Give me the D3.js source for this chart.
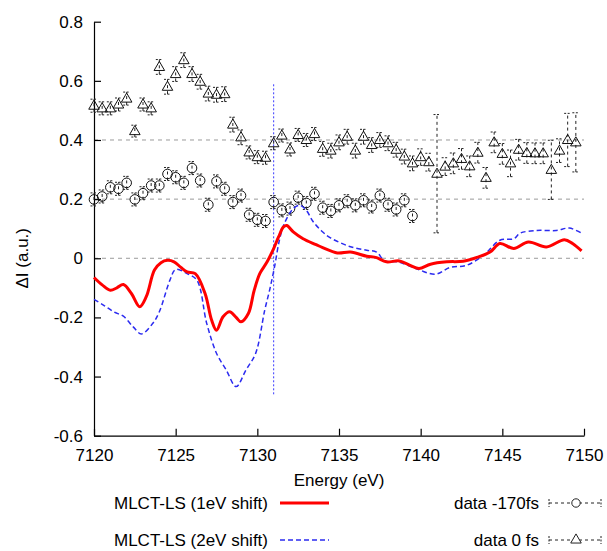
<!DOCTYPE html>
<html>
<head>
<meta charset="utf-8">
<script src="https://cdn.jsdelivr.net/npm/d3@7"></script>
<style>
  body { margin: 0; background: #fff; }
  svg text { font-family: "Liberation Sans", Arial, sans-serif; font-size: 17px; fill: #000; }
</style>
</head>
<body>
<div id="chart"></div>
<script>
// energy grid of the measured points (eV)
const energy = [7120,7120.5,7121,7121.5,7122,7122.5,7123,7123.5,7124,7124.5,
  7125,7125.5,7126,7126.5,7127,7127.5,7128,7128.5,7129,7129.5,
  7130,7130.5,7131,7131.5,7132,7132.5,7133,7133.5,7134,7134.5,
  7135,7135.5,7136,7136.5,7137,7137.5,7138,7138.5,7139,7139.5,
  7140,7140.5,7141,7141.5,7142,7142.5,7143,7143.5,7144,7144.5,
  7145,7145.5,7146,7146.5,7147,7147.5,7148,7148.5,7149,7149.5];

// data 0 fs (triangles)
const data0fs = [0.516,0.507,0.507,0.52,0.54,0.43,0.52,0.507,0.647,0.58,
  0.623,0.67,0.623,0.597,0.557,0.553,0.555,0.452,0.409,0.358,
  0.342,0.34,0.389,0.415,0.368,0.417,0.40,0.42,0.37,0.364,
  0.392,0.411,0.364,0.411,0.383,0.40,0.389,0.367,0.344,0.321,
  0.342,0.325,0.286,0.31,0.321,0.336,0.311,0.357,0.272,0.392,
  0.353,0.321,0.367,0.356,0.355,0.355,0.299,0.364,0.40,0.392];
const err0fs = [0.022,0.022,0.022,0.022,0.022,0.02,0.022,0.022,0.025,0.025,
  0.025,0.025,0.025,0.025,0.025,0.025,0.025,0.025,0.025,0.022,
  0.022,0.022,0.022,0.022,0.022,0.022,0.022,0.022,0.025,0.025,
  0.025,0.025,0.025,0.025,0.025,0.025,0.025,0.025,0.025,0.025,
  0.028,0.03,0.2,0.03,0.035,0.035,0.035,0.035,0.035,0.035,
  0.035,0.045,0.035,0.035,0.035,0.035,0.1,0.04,0.09,0.1];

// data -170fs (circles), first 40 energies
const dataM170 = [0.199,0.209,0.24,0.235,0.255,0.199,0.22,0.246,0.246,0.285,
  0.274,0.255,0.305,0.263,0.181,0.26,0.235,0.19,0.212,0.147,
  0.13,0.126,0.19,0.162,0.168,0.205,0.187,0.218,0.171,0.16,
  0.179,0.193,0.179,0.196,0.175,0.212,0.181,0.165,0.196,0.143];
const errM170 = [0.022,0.022,0.022,0.022,0.022,0.022,0.022,0.022,0.022,0.022,
  0.022,0.022,0.022,0.022,0.022,0.022,0.022,0.022,0.022,0.022,
  0.022,0.022,0.022,0.022,0.022,0.022,0.022,0.022,0.022,0.022,
  0.022,0.022,0.022,0.022,0.022,0.022,0.022,0.022,0.022,0.022];

// MLCT-LS (1eV shift)
const redE = [7120,7120.5,7121,7121.4,7121.8,7122.3,7122.8,7123.2,7123.7,7124.1,
  7124.5,7124.9,7125.3,7125.7,7126.2,7126.8,7127.2,7127.5,7127.9,7128.3,
  7128.7,7129.0,7129.45,7129.8,7130.15,7130.6,7131.0,7131.3,7131.6,7131.8,
  7132.2,7132.8,7133.6,7134.0,7134.9,7135.7,7136.7,7137.3,7137.9,7138.7,
  7139.35,7139.9,7140.6,7141.6,7142.6,7143.4,7144.25,7144.85,7145.7,7146.6,
  7147.7,7148.8,7149.3,7149.85];
const redV = [-0.065,-0.09,-0.108,-0.1,-0.089,-0.12,-0.164,-0.13,-0.04,-0.015,
  -0.007,-0.012,-0.03,-0.046,-0.052,-0.119,-0.209,-0.243,-0.198,-0.181,
  -0.2,-0.215,-0.187,-0.11,-0.052,-0.012,0.033,0.072,0.106,0.111,
  0.089,0.066,0.046,0.036,0.018,0.021,0.007,0.002,-0.012,-0.009,
  -0.024,-0.035,-0.02,-0.012,-0.01,0.002,0.021,0.05,0.033,0.055,
  0.038,0.063,0.05,0.025];

// MLCT-LS (2eV shift)
const blueE = [7120,7120.6,7121.2,7121.8,7122.4,7122.9,7123.6,7124.0,7124.65,7125.0,
  7125.7,7126.3,7126.9,7127.5,7128.1,7128.7,7129.3,7129.9,7130.45,7130.75,
  7131.05,7131.35,7131.65,7132.2,7132.6,7133.0,7133.4,7133.9,7134.45,7135.65,
  7136.7,7137.3,7137.8,7138.6,7139.35,7139.95,7140.9,7141.8,7142.8,7143.85,
  7144.85,7145.7,7146.1,7147.1,7148.3,7149.1,7149.85];
const blueV = [-0.139,-0.159,-0.181,-0.196,-0.232,-0.256,-0.22,-0.181,-0.074,-0.038,
  -0.052,-0.074,-0.22,-0.321,-0.378,-0.434,-0.378,-0.321,-0.176,-0.108,
  -0.03,0.061,0.117,0.168,0.179,0.162,0.125,0.094,0.07,0.04,
  0.027,0.021,-0.009,-0.012,-0.027,-0.04,-0.054,-0.031,-0.024,0.01,
  0.061,0.066,0.085,0.094,0.094,0.102,0.085];

const yTicks = [-0.6,-0.4,-0.2,0,0.2,0.4,0.6,0.8];
const xTicks = [7120,7125,7130,7135,7140,7145,7150];
const gridLevels = [0, 0.2, 0.4];
const marker = { energy: 7131, from: -0.46, to: 0.59 };

const width = 607;
const height = 551;
const margin = { top: 22, right: 23, bottom: 116, left: 94 };

const svg = d3.select('#chart').append('svg')
    .attr('width', width)
    .attr('height', height);

const xScale = d3.scaleLinear().domain([7120, 7150]).range([margin.left, width - margin.right]);
const yScale = d3.scaleLinear().domain([-0.6, 0.8]).range([height - margin.bottom + 0.7, margin.top - 0.3]);

// dashed grid lines
svg.append('g').selectAll('line')
    .data(gridLevels)
    .join('line')
    .attr('x1', xScale(7120)).attr('x2', xScale(7150))
    .attr('y1', (d) => yScale(d)).attr('y2', (d) => yScale(d))
    .attr('stroke', '#9a9a9a')
    .attr('stroke-dasharray', '4,4');

// axes, ticks pointing inward
const yAxis = svg.append('g')
    .attr('transform', `translate(${margin.left},0)`)
    .call(d3.axisLeft(yScale).tickValues(yTicks).tickFormat(d3.format('.1f'))
        .tickSize(-7).tickSizeOuter(0).tickPadding(11));
const xAxis = svg.append('g')
    .attr('transform', `translate(0,${yScale(-0.6)})`)
    .call(d3.axisBottom(xScale).tickValues(xTicks).tickFormat(d3.format('d'))
        .tickSize(-7).tickSizeOuter(0).tickPadding(13));
[xAxis, yAxis].forEach((g) => {
    g.selectAll('text').style('font-size', '17px').attr('fill', '#000');
    g.selectAll('line, path').attr('stroke', '#000').attr('stroke-width', 1.2);
});
yAxis.selectAll('text').text((d) => d.toFixed(1).replace('-0.0', '0').replace(/^0\.0$/, '0'));

svg.append('text')
    .attr('x', (xScale(7120) + xScale(7150)) / 2)
    .attr('y', 486)
    .attr('text-anchor', 'middle')
    .text('Energy (eV)');
svg.append('text')
    .attr('transform', `translate(28,${yScale(0)}) rotate(-90)`)
    .attr('text-anchor', 'middle')
    .text('ΔI (a.u.)');

// vertical marker line
svg.append('line')
    .attr('x1', xScale(marker.energy)).attr('x2', xScale(marker.energy))
    .attr('y1', yScale(marker.from)).attr('y2', yScale(marker.to))
    .attr('stroke', '#3a3aff')
    .attr('stroke-width', 1)
    .attr('stroke-dasharray', '2,2');

// error bars + markers
const tri = d3.symbol().type(d3.symbolTriangle).size(48);

function errorSeries(values, errs, kind) {
    const pts = values.map((v, i) => ({ e: energy[i], v, err: errs[i] }));
    const g = svg.append('g');
    const bars = g.selectAll('g').data(pts).join('g')
        .attr('stroke', '#222').attr('stroke-width', 1).attr('fill', 'none');
    bars.append('line')
        .attr('x1', (d) => xScale(d.e)).attr('x2', (d) => xScale(d.e))
        .attr('y1', (d) => yScale(d.v - d.err)).attr('y2', (d) => yScale(d.v + d.err))
        .attr('stroke-dasharray', '3,3');
    [-1, 1].forEach((s) => {
        bars.append('line')
            .attr('x1', (d) => xScale(d.e) - 3.5).attr('x2', (d) => xScale(d.e) + 3.5)
            .attr('y1', (d) => yScale(d.v + s * d.err)).attr('y2', (d) => yScale(d.v + s * d.err))
            .attr('stroke-dasharray', '2,1.5');
    });
    if (kind === 'circle') {
        g.selectAll('circle').data(pts).join('circle')
            .attr('cx', (d) => xScale(d.e)).attr('cy', (d) => yScale(d.v))
            .attr('r', 4.8).attr('fill', 'none').attr('stroke', '#111').attr('stroke-width', 1);
    } else {
        g.selectAll('path.tri').data(pts).join('path')
            .attr('class', 'tri')
            .attr('d', tri)
            .attr('transform', (d) => `translate(${xScale(d.e)},${yScale(d.v) + 0.5})`)
            .attr('fill', 'none').attr('stroke', '#111').attr('stroke-width', 1);
    }
}
errorSeries(dataM170, errM170, 'circle');
errorSeries(data0fs, err0fs, 'triangle');

// model curves
const line = d3.line()
    .x((d) => xScale(d[0]))
    .y((d) => yScale(d[1]))
    .curve(d3.curveCatmullRom.alpha(0.5));

svg.append('path')
    .datum(blueE.map((e, i) => [e, blueV[i]]))
    .attr('d', line)
    .attr('fill', 'none')
    .attr('stroke', '#2b2bf0')
    .attr('stroke-width', 1.5)
    .attr('stroke-dasharray', '5,3');

svg.append('path')
    .datum(redE.map((e, i) => [e, redV[i]]))
    .attr('d', line)
    .attr('fill', 'none')
    .attr('stroke', '#f00')
    .attr('stroke-width', 3);

// legend
const legend = svg.append('g');
const rowY = [503, 540];
legend.append('text').attr('x', 268).attr('y', rowY[0]).attr('dy', '0.35em')
    .attr('text-anchor', 'end').text('MLCT-LS (1eV shift)');
legend.append('line').attr('x1', 280).attr('x2', 329).attr('y1', rowY[0]).attr('y2', rowY[0])
    .attr('stroke', '#f00').attr('stroke-width', 3);
legend.append('text').attr('x', 268).attr('y', rowY[1]).attr('dy', '0.35em')
    .attr('text-anchor', 'end').text('MLCT-LS (2eV shift)');
legend.append('line').attr('x1', 280).attr('x2', 329).attr('y1', rowY[1]).attr('y2', rowY[1])
    .attr('stroke', '#2b2bf0').attr('stroke-width', 1.5).attr('stroke-dasharray', '5,3');

legend.append('text').attr('x', 539).attr('y', rowY[0]).attr('dy', '0.35em')
    .attr('text-anchor', 'end').text('data -170fs');
legend.append('text').attr('x', 539).attr('y', rowY[1]).attr('dy', '0.35em')
    .attr('text-anchor', 'end').text('data 0 fs');

rowY.forEach((y, i) => {
    const g = legend.append('g').attr('stroke', '#222').attr('fill', 'none').attr('stroke-width', 1);
    g.append('line').attr('x1', 549).attr('x2', 601).attr('y1', y).attr('y2', y)
        .attr('stroke-dasharray', '3,3');
    [549, 601].forEach((x) => {
        g.append('line').attr('x1', x).attr('x2', x).attr('y1', y - 4).attr('y2', y + 4)
            .attr('stroke-dasharray', '2,1.5');
    });
    if (i === 0) {
        g.append('circle').attr('cx', 576).attr('cy', y).attr('r', 4.2).attr('fill', '#fff');
    } else {
        g.append('path').attr('d', tri).attr('transform', `translate(576,${y})`).attr('fill', '#fff');
    }
});
</script>
</body>
</html>
